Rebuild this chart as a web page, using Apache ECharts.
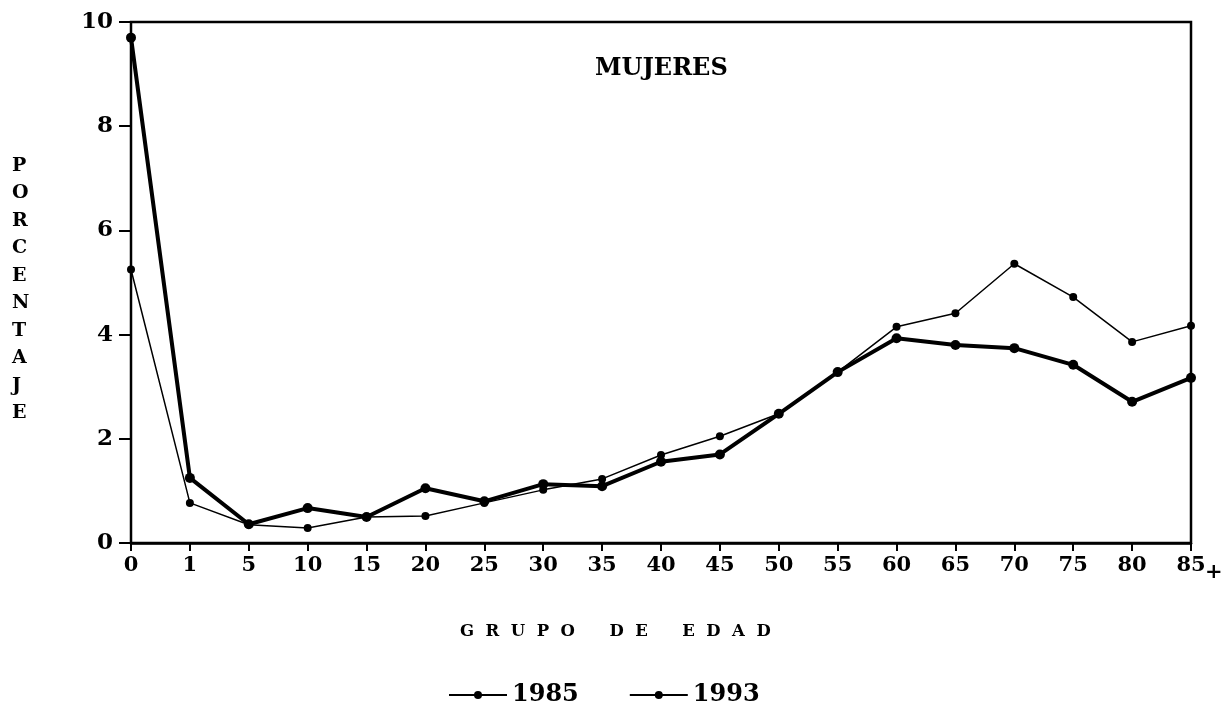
<!DOCTYPE html>
<html>
<head>
<meta charset="utf-8">
<script src="https://cdn.jsdelivr.net/npm/echarts@6/dist/echarts.min.js"></script>
<style>
  html,body{margin:0;padding:0;background:#fff}
  #c{width:1225px;height:716px}
</style>
</head>
<body>
<div id="c"></div>
<script>
// grupos de edad y porcentajes
const grupos = ['0','1','5','10','15','20','25','30','35','40','45','50','55','60','65','70','75','80','85'];
const y1985 = [9.70, 1.25, 0.36, 0.67, 0.50, 1.05, 0.80, 1.13, 1.09, 1.56, 1.70, 2.48, 3.28, 3.93, 3.80, 3.74, 3.42, 2.71, 3.17];
const y1993 = [5.25, 0.77, 0.35, 0.29, 0.50, 0.52, 0.77, 1.02, 1.23, 1.69, 2.05, 2.48, 3.28, 4.15, 4.41, 5.36, 4.72, 3.86, 4.17];
const yTicks = [0, 2, 4, 6, 8, 10];

const INK = '#000';
const SERIF = '"DejaVu Serif", "Liberation Serif", serif';

const chart = echarts.init(document.getElementById('c'));
chart.setOption({
  backgroundColor: '#fff',
  animation: false,
  grid: { left: 131, right: 34, top: 22, bottom: 173, show: true,
    borderColor: INK, borderWidth: 2.5, backgroundColor: 'transparent' },
  title: {
    text: 'MUJERES', left: 590, top: 52,
    textStyle: { fontFamily: SERIF, fontWeight: 900, fontSize: 24, color: INK }
  },
  legend: {
    bottom: 4, left: 443, itemGap: 50, itemWidth: 58, itemHeight: 10,
    textStyle: { fontFamily: SERIF, fontWeight: 'bold', fontSize: 24, color: INK },
    data: ['1985', '1993']
  },
  xAxis: {
    type: 'category', data: grupos, boundaryGap: false,
    axisLine: { lineStyle: { color: INK, width: 2.5 } },
    axisTick: { alignWithLabel: true, length: 8, lineStyle: { color: INK, width: 2 } },
    axisLabel: { margin: 12, interval: 0, color: INK, fontFamily: SERIF, fontWeight: 'bold', fontSize: 21 },
    splitLine: { show: false }
  },
  yAxis: {
    type: 'value', min: yTicks[0], max: yTicks[yTicks.length - 1], interval: 2,
    axisLine: { show: true, lineStyle: { color: INK, width: 2 } },
    axisTick: { show: true, length: 12, lineStyle: { color: INK, width: 2 } },
    axisLabel: { margin: 18, color: INK, fontFamily: SERIF, fontWeight: 'bold', fontSize: 23 },
    splitLine: { show: false }
  },
  graphic: [
    { type: 'text', left: 1205, top: 562,
      style: { text: '+', fontFamily: SERIF, fontWeight: 'bold', fontSize: 21, fill: INK } },
    { type: 'text', left: 460, top: 623,
      style: { text: 'G  R  U  P  O      D  E      E  D  A  D', fontFamily: SERIF, fontWeight: 'bold',
        fontSize: 16.5, fill: INK } },
    { type: 'text', left: 12, top: 152,
      style: { text: 'PORCENTAJE'.split('').join('\n'), fontFamily: SERIF, fontWeight: 'bold',
        fontSize: 19, lineHeight: 27.5, fill: INK, align: 'center', x: 10 } }
  ],
  series: [
    { name: '1985', type: 'line', data: y1985, symbol: 'circle', symbolSize: 10,
      lineStyle: { color: INK, width: 4 }, itemStyle: { color: INK } },
    { name: '1993', type: 'line', data: y1993, symbol: 'circle', symbolSize: 8,
      lineStyle: { color: INK, width: 1.5 }, itemStyle: { color: INK } }
  ]
});
</script>
</body>
</html>
